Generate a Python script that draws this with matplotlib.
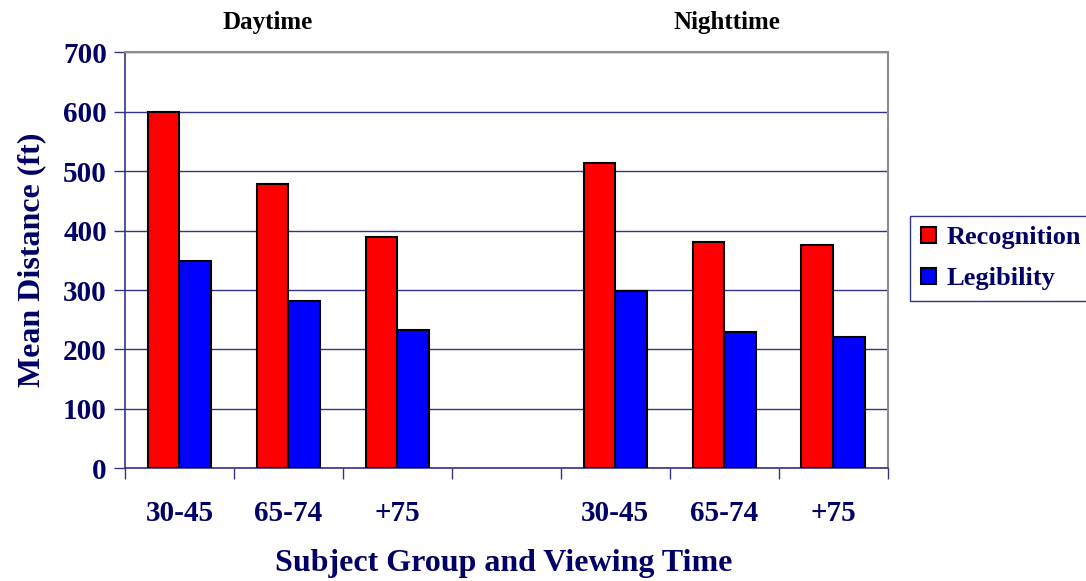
import matplotlib
matplotlib.use("Agg")
import matplotlib.pyplot as plt
from matplotlib.patches import Patch
import numpy as np

# ---- data ----
categories = ["30-45", "65-74", "+75", "", "30-45", "65-74", "+75"]
recognition = [600, 478, 390, None, 513, 380, 376]
legibility = [348, 282, 232, None, 299, 229, 221]
yticks = [0, 100, 200, 300, 400, 500, 600, 700]
group_titles = ["Daytime", "Nighttime"]

navy = "#000066"
grid_c = "#333388"
plt.rcParams["font.family"] = ["Liberation Serif", "DejaVu Serif"]
plt.rcParams["font.weight"] = "bold"

fig = plt.figure(figsize=(10.86, 5.81), dpi=100)
ax = fig.add_axes([125 / 1086, 1 - 468.3 / 581, (887.5 - 125) / 1086, (468.3 - 52.3) / 581])

w = 0.29
idx = [i for i, v in enumerate(recognition) if v is not None]
rec = [recognition[i] for i in idx]
leg = [legibility[i] for i in idx]
x = np.array(idx, dtype=float)
ax.bar(x - w / 2, rec, width=w, color="#ff0000", edgecolor="black", linewidth=1.5, zorder=3)
ax.bar(x + w / 2, leg, width=w, color="#0000ff", edgecolor="black", linewidth=1.5, zorder=3)

ax.set_xlim(-0.5, len(categories) - 0.5)
ax.set_ylim(0, 700)
ax.set_yticks(yticks)
ax.set_yticklabels([str(t) for t in yticks], fontsize=21, fontweight="bold", color=navy)
ax.yaxis.grid(True, color=grid_c, linewidth=1.0, zorder=0)
ax.set_axisbelow(True)

ax.set_xticks(range(len(categories)))
ax.set_xticklabels(categories, fontsize=21, fontweight="bold", color=navy)
ax.set_xticks(np.arange(-0.5, len(categories)), minor=True)
ax.tick_params(axis="x", which="major", length=0, pad=23)
ax.tick_params(axis="x", which="minor", length=8, color=grid_c, width=1, direction="out")
ax.tick_params(axis="y", which="major", length=8, color=grid_c, width=1, direction="out", pad=5)

for s in ["left", "bottom"]:
    ax.spines[s].set_color(grid_c)
    ax.spines[s].set_linewidth(1.2)
for s in ["top", "right"]:
    ax.spines[s].set_color("#8c8c8c")
    ax.spines[s].set_linewidth(1.5)

ax.set_ylabel("Mean Distance (ft)", fontsize=23, fontweight="bold", color=navy, labelpad=12)
fig.text(504 / 1086, 1 - 563 / 581, "Subject Group and Viewing Time", fontsize=23,
         fontweight="bold", color=navy, ha="center", va="center")

fig.text(268 / 1086, 1 - 22 / 581, group_titles[0], fontsize=18, fontweight="bold",
         color="black", ha="center", va="center")
fig.text(727 / 1086, 1 - 22 / 581, group_titles[1], fontsize=18, fontweight="bold",
         color="black", ha="center", va="center")

handles = [Patch(facecolor="#ff0000", edgecolor="black", linewidth=1.5),
           Patch(facecolor="#0000ff", edgecolor="black", linewidth=1.5)]
lg = fig.legend(handles, ["Recognition", "Legibility"], loc="upper left",
                bbox_to_anchor=(910 / 1086, 1 - 215.7 / 581),
                prop={"size": 19, "weight": "bold"}, frameon=True, fancybox=False,
                handlelength=0.6, handleheight=0.6, handletextpad=0.4,
                borderpad=0.4, labelspacing=0.68, borderaxespad=0)
lg.get_frame().set_edgecolor(navy)
lg.get_frame().set_linewidth(1.0)
for t in lg.get_texts():
    t.set_color(navy)

fig.savefig("out.png", dpi=100)
